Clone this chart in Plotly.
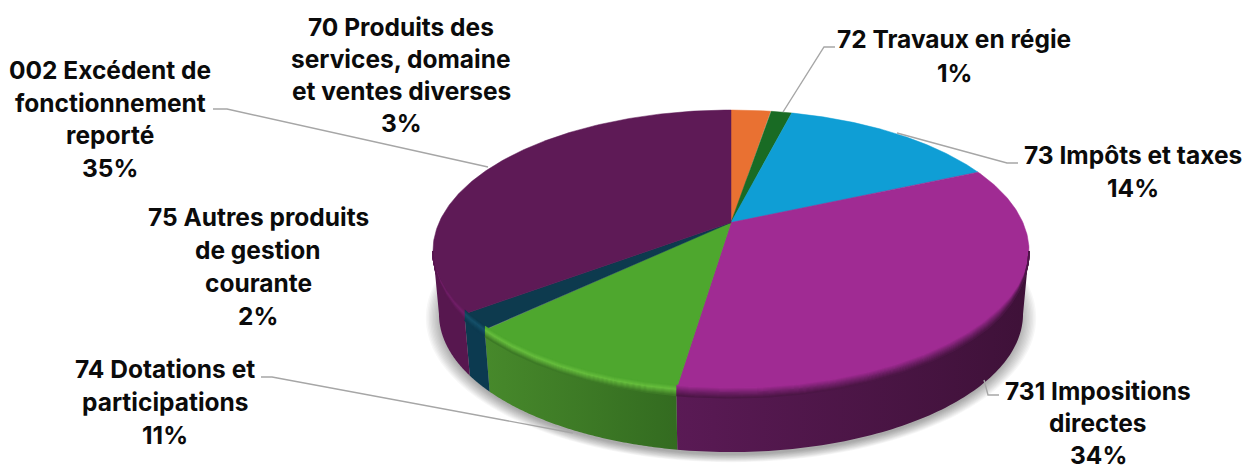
import numpy as np
import plotly.graph_objects as go

# ---------- data (share of total, %) clockwise from 12 o'clock ----------
codes = ["70", "72", "73", "731", "74", "75", "002"]
values = [2.6, 1.4, 14.4, 34.0, 10.55, 1.9, 35.15]
label_lines = [
    ["70 Produits des", "services, domaine", "et ventes diverses"],
    ["72 Travaux en régie"],
    ["73 Impôts et taxes"],
    ["731 Impositions", "directes"],
    ["74 Dotations et", "participations"],
    ["75 Autres produits", "de gestion", "courante"],
    ["002 Excédent de", "fonctionnement", "reporté"],
]

# ---------- styling ----------
top_colors = ["#E97132", "#196B24", "#0F9ED5", "#A02B93", "#4EA72E", "#0D3A4E", "#5E1A56"]
side_left = ["#B0551F", "#124E1A", "#0B7AA3", "#5A1A55", "#47892B", "#0C3A50", "#57174F"]
side_right = ["#B0551F", "#124E1A", "#0B7AA3", "#3E1138", "#336B20", "#0C3A50", "#57174F"]
rim_colors = ["#E97132", "#196B24", "#0F9ED5", "#7A2271", "#66BD3D", "#155069", "#711F68"]
label_pos = [(401, 27, 32), (954, 39, 34), (1133, 155, 33), (1098, 391, 32),
             (165, 369, 33), (258, 217, 33), (110, 70, 32.5)]
leaders = [
    None,
    [(835, 47), (824, 47), (783, 112)],
    [(1018, 163), (1007, 163), (897, 133)],
    [(999, 395), (988, 395), (984, 380)],
    [(261, 377), (272, 377), (573, 433)],
    None,
    [(213, 109), (227, 109), (488, 167)],
]
CX, CY = 731.0, 222.5
A, B, K = 291.9, 135.2, 0.202
A2, B2, Y2 = 286.0, 132.5, 286.0


def top(theta):
    u, v = np.sin(theta), np.cos(theta)
    w = 1 + K * v
    return CX + A * u / w, CY - B * v / w


def bottom(theta):
    u, v = np.sin(theta), np.cos(theta)
    w = 1 + K * v
    return CX + A2 * u / w, Y2 - B2 * v / w


def mix(c1, c2, t):
    a = [int(c1[i:i + 2], 16) for i in (1, 3, 5)]
    b = [int(c2[i:i + 2], 16) for i in (1, 3, 5)]
    return "#%02x%02x%02x" % tuple(round(a[i] + (b[i] - a[i]) * t) for i in range(3))


total = sum(values)
edges = np.cumsum([0] + values) / total * 2 * np.pi
front_a, front_b = np.arccos(-K), 2 * np.pi - np.arccos(-K)

fig = go.Figure()

# soft shadow under the pie
full = np.linspace(0, 2 * np.pi, 240)
for i in range(12):
    s = 1.045 - i * 0.005
    sx, sy = bottom(full)
    fig.add_trace(go.Scatter(
        x=CX + (sx - CX) * s, y=(Y2 + 28) + (sy - Y2 - 28) * s + 4,
        fill="toself", mode="none", fillcolor="rgba(0,0,0,0.03)", hoverinfo="skip"))

# side walls
for i in range(len(values)):
    a0, a1 = max(edges[i], front_a), min(edges[i + 1], front_b)
    if a1 <= a0:
        continue
    t = np.linspace(a0, a1, 90)
    tx, ty = top(t)
    bx, by = bottom(t)
    fig.add_trace(go.Scatter(
        x=np.r_[tx, bx[::-1]], y=np.r_[ty, by[::-1]], fill="toself", mode="none",
        fillgradient=dict(type="horizontal",
                          colorscale=[[0, side_left[i]], [1, side_right[i]]]),
        hoverinfo="skip"))

# top faces
for i in range(len(values)):
    t = np.linspace(edges[i], edges[i + 1], 160)
    tx, ty = top(t)
    fig.add_trace(go.Scatter(
        x=np.r_[CX, tx, CX], y=np.r_[CY, ty, CY], fill="toself", mode="lines",
        line=dict(color=top_colors[i], width=0.5), fillcolor=top_colors[i],
        hoverinfo="skip"))

# bevel along the front rim, fading out towards both extremes of the ellipse
offsets = [-4, -3, -2, -1, 0, 1, 2, 3, 4, 5, 6]
for i in range(len(values)):
    a0, a1 = max(edges[i], front_a), min(edges[i + 1], front_b)
    if a1 <= a0:
        continue
    t = np.linspace(a0, a1, 90)
    tx, ty = top(t)
    fade = np.clip(np.minimum(t - front_a, front_b - t) / 0.45, 0, 1)
    side_mid = mix(side_left[i], side_right[i], 0.5)
    for d in offsets:
        if d <= 0:
            col = mix(top_colors[i], rim_colors[i], (d + 4) / 4)
        else:
            col = mix(rim_colors[i], side_mid, d / 6)
        fig.add_trace(go.Scatter(x=tx, y=ty + d * fade, mode="lines",
                                 line=dict(color=col, width=1.4), hoverinfo="skip"))

# leader lines
for pts in leaders:
    if pts:
        fig.add_trace(go.Scatter(x=[p[0] for p in pts], y=[p[1] for p in pts], mode="lines",
                                 line=dict(color="#A6A6A6", width=1.4), hoverinfo="skip"))

# labels, one annotation per line to hold the reference line spacing
for lines, v, (x, y0, dy) in zip(label_lines, values, label_pos):
    for n, txt in enumerate(lines + [f"{round(v)}%"]):
        fig.add_annotation(x=x, y=y0 + n * dy, text=txt, showarrow=False,
                           xanchor="center", yanchor="middle",
                           font=dict(family="Inter", size=24.5, color="#0b0b0b", weight=700))

fig.update_layout(
    width=1246, height=466, margin=dict(l=0, r=0, t=0, b=0), showlegend=False,
    paper_bgcolor="white", plot_bgcolor="white",
    xaxis=dict(range=[0, 1246], visible=False, fixedrange=True),
    yaxis=dict(range=[466, 0], visible=False, fixedrange=True),
)
fig.write_html("out.html", config=dict(displayModeBar=False),
               post_script="document.body.style.margin='0';")
